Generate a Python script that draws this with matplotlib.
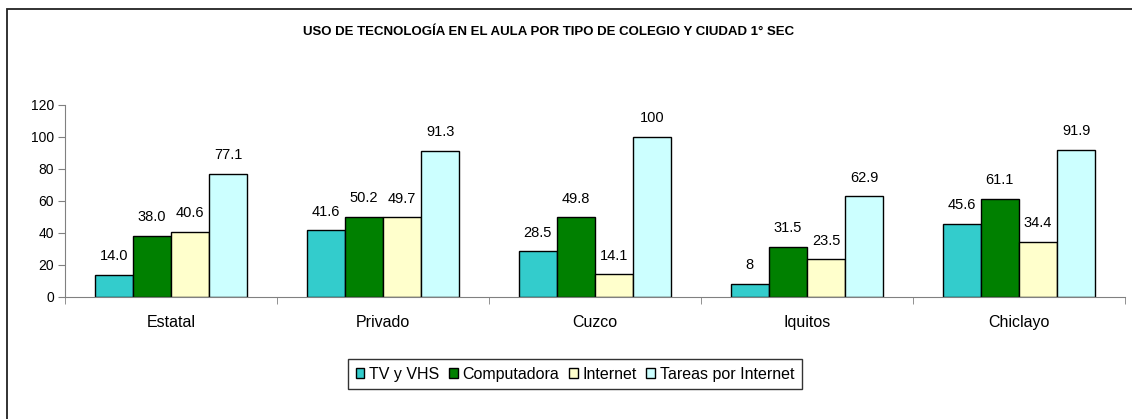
import matplotlib
matplotlib.use('Agg')
import matplotlib.pyplot as plt
import numpy as np
from matplotlib.patches import Rectangle

plt.rcParams['font.family'] = ['Liberation Sans', 'DejaVu Sans']

categories = ['Estatal', 'Privado', 'Cuzco', 'Iquitos', 'Chiclayo']
series_names = ['TV y VHS', 'Computadora', 'Internet', 'Tareas por Internet']
tv_vhs = [14.0, 41.6, 28.5, 8, 45.6]
computadora = [38.0, 50.2, 49.8, 31.5, 61.1]
internet = [40.6, 49.7, 14.1, 23.5, 34.4]
tareas = [77.1, 91.3, 100, 62.9, 91.9]
# labels as printed on the chart
tv_labels = ['14.0', '41.6', '28.5', '8', '45.6']
comp_labels = ['38.0', '50.2', '49.8', '31.5', '61.1']
inet_labels = ['40.6', '49.7', '14.1', '23.5', '34.4']
tareas_labels = ['77.1', '91.3', '100', '62.9', '91.9']
yticks = [0, 20, 40, 60, 80, 100, 120]

colors = ['#33CCCC', '#008000', '#FFFFCC', '#CCFFFF']
series = [tv_vhs, computadora, internet, tareas]
labels = [tv_labels, comp_labels, inet_labels, tareas_labels]

fig = plt.figure(figsize=(11.32, 4.19), dpi=100)
fig.patch.set_facecolor('white')

# outer chart frame (runs off the right and bottom edges)
fig.patches.append(Rectangle((7 / 1132, -0.05), 1.2, 1 - 9 / 419 + 0.05,
                             transform=fig.transFigure, fill=False,
                             edgecolor='#222222', linewidth=1.3))

ax = fig.add_axes([65 / 1132, 1 - 297 / 419, 1060 / 1132, 192 / 419])

x = np.arange(len(categories))
w = 0.18
for i, (vals, c, lab, name) in enumerate(zip(series, colors, labels, series_names)):
    pos = x + (i - 1.5) * w
    bars = ax.bar(pos, vals, width=w, color=c, edgecolor='black', linewidth=1.0, label=name)
    for b, t in zip(bars, lab):
        ax.annotate(t, (b.get_x() + b.get_width() / 2, b.get_height()),
                    xytext=(0, 8.5), textcoords='offset points',
                    ha='center', va='bottom', fontsize=10.5)

ax.set_xlim(-0.5, len(categories) - 0.5)
ax.set_ylim(0, 120)
ax.set_yticks(yticks)
ax.set_yticklabels([str(t) for t in yticks], fontsize=10)
ax.set_xticks(x)
ax.set_xticklabels(categories, fontsize=11.5)
ax.set_xticks(np.arange(len(categories) + 1) - 0.5, minor=True)
ax.tick_params(axis='x', which='major', length=0, pad=13)
ax.tick_params(axis='x', which='minor', length=5, direction='out', color='#808080')
ax.tick_params(axis='y', length=5, direction='out', color='#808080', pad=3)

for s in ['top', 'right']:
    ax.spines[s].set_visible(False)
ax.spines['left'].set_color('#808080')
ax.spines['bottom'].set_color('#808080')

fig.text(549 / 1132, 1 - 32 / 419, 'USO DE TECNOLOGÍA EN EL AULA POR TIPO DE COLEGIO Y CIUDAD 1° SEC',
         ha='center', va='center', fontsize=9.5, fontweight='bold')

leg = ax.legend(loc='center', bbox_to_anchor=(575 / 1132, 1 - 374 / 419),
                bbox_transform=fig.transFigure, ncol=4, fontsize=11.5,
                frameon=True, fancybox=False, edgecolor='black',
                handlelength=0.55, handleheight=0.55, handletextpad=0.3,
                columnspacing=0.6, borderpad=0.5, borderaxespad=0)
leg.get_frame().set_linewidth(1.0)

fig.savefig('out.png', dpi=100, facecolor='white')
